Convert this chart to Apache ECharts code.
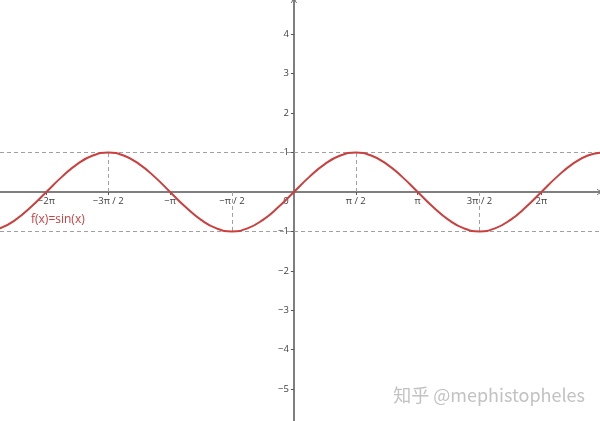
<!DOCTYPE html>
<html>
<head>
<meta charset="utf-8">
<script src="https://cdn.jsdelivr.net/npm/echarts@6/dist/echarts.min.js"></script>
<style>
html,body{margin:0;padding:0;background:#fff;}
#c{width:600px;height:421px;}
</style>
</head>
<body>
<div id="c"></div>
<script>
// Sample points (x in radians, y values)
var curveX = [-7.854,-7.461,-7.069,-6.676,-6.283,-5.890,-5.498,-5.105,-4.712,-4.320,-3.927,-3.534,-3.142,-2.749,-2.356,-1.963,-1.571,-1.178,-0.785,-0.393,0,
  0.393,0.785,1.178,1.571,1.963,2.356,2.749,3.142,3.534,3.927,4.320,4.712,5.105,5.498,5.890,6.283,6.676,7.069,7.461,7.854];
var curveY = [-1,-0.924,-0.707,-0.383,0,0.383,0.707,0.924,1,0.924,0.707,0.383,0,-0.383,-0.707,-0.924,-1,-0.924,-0.707,-0.383,0,
  0.383,0.707,0.924,1,0.924,0.707,0.383,0,-0.383,-0.707,-0.924,-1,-0.924,-0.707,-0.383,0,0.383,0.707,0.924,1];

var xTickValues = [-6.283,-4.712,-3.142,-1.571,1.571,3.142,4.712,6.283];
var xLabelValues = [-6.283,-4.712,-3.142,-1.571,0,1.571,3.142,4.712,6.283];
var xLabelTexts = ['−2π','−3π / 2','−π','−π / 2','0','π / 2','π','3π / 2','2π'];
var yTickValues = [-5,-4,-3,-2,-1,1,2,3,4];
var yLabelTexts = ['−5','−4','−3','−2','−1','1','2','3','4'];

var guideLevels = [1,-1];
var peakX = [-4.712,-1.571,1.571,4.712];
var peakY = [1,-1,1,-1];

var seriesName = 'f(x)=sin(x)';
var watermark = '知乎 @mephistopheles';

var xMin = -7.46, xMax = 7.77, yMin = -5.81, yMax = 4.87;

var red = '#c9403f';
var axisColor = '#555555';
var labelColor = '#404040';
var font = '"Open Sans", "Noto Sans", sans-serif';

var el = document.getElementById('c');
var chart = echarts.init(el, null, {renderer:'canvas'});
var W = el.clientWidth, H = el.clientHeight;

// move the axes to cross at the origin (through the axis scales' extents)
var xAxisOffset = -H * (0 - yMin) / (yMax - yMin);
var yAxisOffset = -W * (0 - xMin) / (xMax - xMin);

var arrowPath = 'path://M0,10 L5,0 L10,10 L8.6,10 L5,2.6 L1.4,10 Z';

var pts = curveX.map(function(x,i){return [x, curveY[i]];});

var markData = [];
guideLevels.forEach(function(v){ markData.push({yAxis:v}); });
peakX.forEach(function(x,i){ markData.push([{coord:[x,0]},{coord:[x,peakY[i]]}]); });

chart.setOption({
  animation:false,
  backgroundColor:'#ffffff',
  grid:{left:0,right:0,top:0,bottom:0,containLabel:false,outerBoundsMode:'none'},
  xAxis:{
    type:'value', min:xMin, max:xMax, position:'bottom', offset:xAxisOffset,
    splitLine:{show:false},
    axisLine:{onZero:false, lineStyle:{color:axisColor,width:1.5}, symbol:['none',arrowPath], symbolSize:[7,6]},
    axisTick:{show:true, length:3, customValues:xTickValues, lineStyle:{color:axisColor}},
    axisLabel:{
      customValues:xLabelValues, margin:4, fontSize:9.5, color:labelColor, fontFamily:font,
      hideOverlap:false,
      formatter:function(v){
        var idx = -1;
        for (var i=0;i<xLabelValues.length;i++){ if (Math.abs(xLabelValues[i]-v)<1e-6) idx=i; }
        if (idx<0) return '';
        if (xLabelValues[idx]===0) return '{z|'+xLabelTexts[idx]+'}';
        return xLabelTexts[idx];
      },
      rich:{z:{padding:[0,16,0,0], fontSize:9.5, color:labelColor, fontFamily:font}}
    }
  },
  yAxis:{
    type:'value', min:yMin, max:yMax, position:'left', offset:yAxisOffset,
    splitLine:{show:false},
    axisLine:{onZero:false, lineStyle:{color:axisColor,width:1.5}, symbol:['none',arrowPath], symbolSize:[7,6]},
    axisTick:{show:true, length:3, customValues:yTickValues, lineStyle:{color:axisColor}},
    axisLabel:{
      customValues:yTickValues, margin:5, fontSize:9.5, color:labelColor, fontFamily:font,
      formatter:function(v){
        for (var i=0;i<yTickValues.length;i++){ if (Math.abs(yTickValues[i]-v)<1e-6) return yLabelTexts[i]; }
        return '';
      }
    }
  },
  series:[{
    name:seriesName,
    type:'line',
    data:pts,
    smooth:0.5,
    showSymbol:false,
    symbol:'none',
    lineStyle:{color:red,width:2},
    z:5,
    markLine:{
      silent:true,
      symbol:['none','none'],
      label:{show:false},
      lineStyle:{color:'#a0a0a0',width:1,type:[4,3]},
      data:markData
    }
  }],
  graphic:[
    {type:'text', left:31, top:214, style:{text:seriesName, fill:red, font:'12px '+font}},
    {type:'text', right:15, top:386, style:{text:watermark, fill:'#c2c2c2', font:'18px "Noto Sans CJK SC", "Noto Sans", sans-serif'}}
  ]
});
</script>
</body>
</html>
